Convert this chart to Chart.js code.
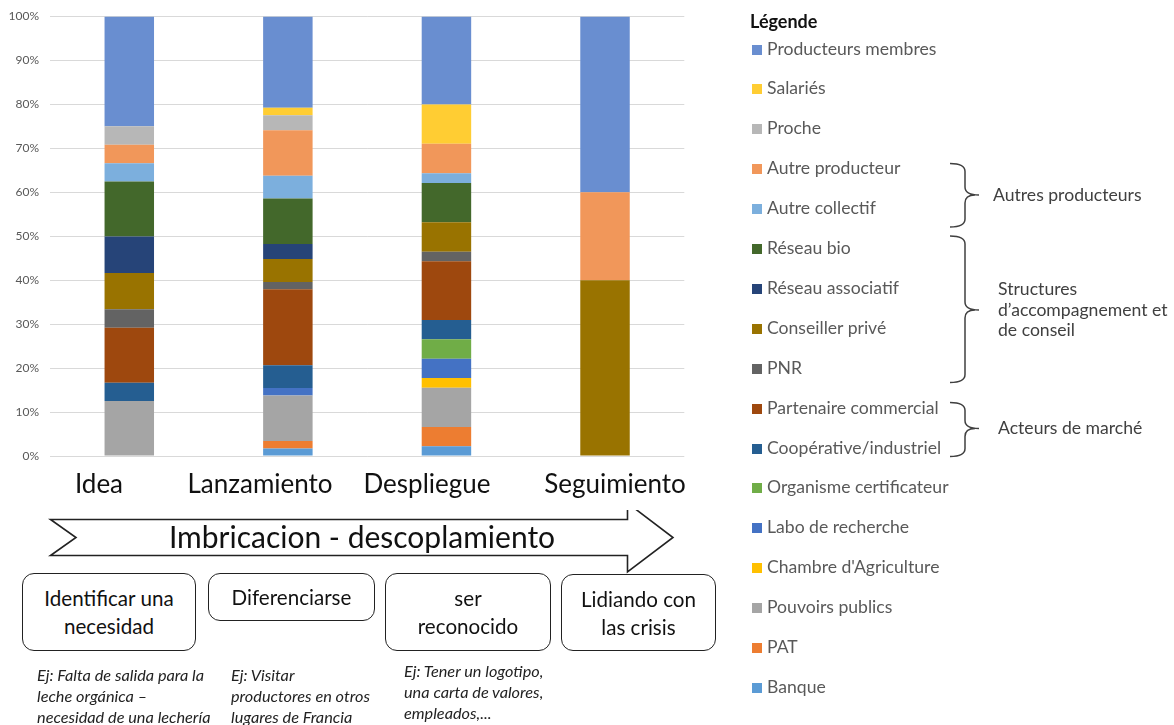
<!DOCTYPE html>
<html>
<head>
<meta charset="utf-8">
<script src="https://cdn.jsdelivr.net/npm/chart.js@4.4.1/dist/chart.umd.min.js"></script>
<style>
html,body{margin:0;padding:0;background:#fff;}
#root{position:relative;width:1174px;height:725px;overflow:hidden;font-family:Lato,'Open Sans',sans-serif;}
#chartBox{position:absolute;left:0;top:0;width:700px;height:470px;}
.cat{position:absolute;top:468px;font-size:26px;line-height:31px;color:#111;white-space:nowrap;transform:translateX(-50%);background:#fff;padding:0 4px;}
#arrowTxt{position:absolute;left:362px;top:518px;transform:translateX(-50%);font-size:30px;line-height:36px;color:#111;white-space:nowrap;}
.box{position:absolute;box-sizing:border-box;border:1.6px solid #222;border-radius:12px;display:flex;align-items:center;justify-content:center;text-align:center;font-size:20.6px;line-height:28px;color:#111;background:#fff;}
.ex{position:absolute;font-style:italic;font-size:16.3px;line-height:21px;color:#222;white-space:nowrap;}
#legendTitle{position:absolute;left:750px;top:9px;font-weight:bold;font-size:18px;line-height:24px;color:#111;}
.lg{position:absolute;left:752px;height:24px;line-height:24px;font-size:17.6px;color:#595959;white-space:nowrap;}
.lg i{display:inline-block;width:10px;height:10px;margin-right:5px;}
.grp{position:absolute;left:995px;font-size:17.6px;line-height:20.5px;color:#404040;white-space:nowrap;}
svg{position:absolute;left:0;top:0;}
</style>
</head>
<body>
<div id="root">
  <div id="chartBox"><canvas id="c"></canvas></div>
  <svg id="deco" width="1174" height="725"></svg>
</div>
<script>
// ---------- data ----------
const categories = ['Idea', 'Lanzamiento', 'Despliegue', 'Seguimiento'];
const yTickValues = [0, 10, 20, 30, 40, 50, 60, 70, 80, 90, 100];

const producteursMembres    = [25.0, 20.7, 20.0, 40.0];
const salaries              = [0.0, 1.7, 8.9, 0.0];
const proche                = [4.2, 3.4, 0.0, 0.0];
const autreProducteur       = [4.2, 10.3, 6.7, 20.0];
const autreCollectif        = [4.2, 5.2, 2.2, 0.0];
const reseauBio             = [12.5, 10.3, 8.9, 0.0];
const reseauAssociatif      = [8.3, 3.4, 0.0, 0.0];
const conseillerPrive       = [8.3, 5.2, 6.7, 40.0];
const pnr                   = [4.2, 1.7, 2.2, 0.0];
const partenaireCommercial  = [12.5, 17.2, 13.3, 0.0];
const cooperativeIndustriel = [4.2, 5.2, 4.4, 0.0];
const organismeCertif       = [0.0, 0.0, 4.4, 0.0];
const laboRecherche         = [0.0, 1.7, 4.4, 0.0];
const chambreAgriculture    = [0.0, 0.0, 2.2, 0.0];
const pouvoirsPublics       = [12.5, 10.3, 8.9, 0.0];
const pat                   = [0.0, 1.7, 4.4, 0.0];
const banque                = [0.0, 1.7, 2.2, 0.0];

// legend order (top to bottom)
const seriesNames = ['Producteurs membres', 'Salariés', 'Proche', 'Autre producteur', 'Autre collectif',
  'Réseau bio', 'Réseau associatif', 'Conseiller privé', 'PNR', 'Partenaire commercial',
  'Coopérative/industriel', 'Organisme certificateur', 'Labo de recherche', "Chambre d'Agriculture",
  'Pouvoirs publics', 'PAT', 'Banque'];
const seriesValues = [producteursMembres, salaries, proche, autreProducteur, autreCollectif,
  reseauBio, reseauAssociatif, conseillerPrive, pnr, partenaireCommercial,
  cooperativeIndustriel, organismeCertif, laboRecherche, chambreAgriculture,
  pouvoirsPublics, pat, banque];
const seriesColors = ['#698ED0', '#FFCD33', '#B7B7B7', '#F1975A', '#7CAFDD',
  '#43682B', '#264478', '#997300', '#636363', '#9E480E',
  '#255E91', '#70AD47', '#4472C4', '#FFC000',
  '#A5A5A5', '#ED7D31', '#5B9BD5'];

const groupLabels = ['Autres producteurs', 'Structures\nd\u2019accompagnement et\nde conseil', 'Acteurs de marché'];

const stageTasks = ['Identificar una\nnecesidad', 'Diferenciarse', 'ser\nreconocido', 'Lidiando con\nlas crisis'];
const stageExamples = ['Ej: Falta de salida para la\nleche orgánica \u2013\nnecesidad de una lechería',
  'Ej: Visitar\nproductores en otros\nlugares de Francia',
  'Ej: Tener un logotipo,\nuna carta de valores,\nempleados,...', ''];
const processTitle = 'Imbricacion - descoplamiento';

// ---------- chart ----------
const totals = categories.map((_, k) => seriesValues.reduce((s, arr) => s + arr[k], 0));
const datasets = [];
for (let i = seriesNames.length - 1; i >= 0; i--) {
  datasets.push({
    label: seriesNames[i],
    data: seriesValues[i].map((v, k) => v / totals[k] * 100),
    backgroundColor: seriesColors[i],
    borderWidth: 0,
    barPercentage: 0.312,
    categoryPercentage: 1.0
  });
}

const chart = new Chart(document.getElementById('c'), {
  type: 'bar',
  data: { labels: categories, datasets },
  options: {
    responsive: true,
    maintainAspectRatio: false,
    animation: false,
    layout: { padding: { left: 0, right: 15.7, top: 16.5, bottom: 14 } },
    plugins: { legend: { display: false }, tooltip: { enabled: false } },
    scales: {
      x: { stacked: true, display: false, offset: true },
      y: {
        stacked: true, min: 0, max: 100,
        afterBuildTicks: s => { s.ticks = yTickValues.map(v => ({ value: v })); },
        afterFit: s => { s.width = 50; s.paddingTop = 0; s.paddingBottom = 0; },
        ticks: { callback: v => v + '%', color: '#595959', font: { family: 'Lato', size: 12 }, padding: 11 },
        grid: { color: '#D9D9D9', lineWidth: 1, drawTicks: false },
        border: { display: false }
      }
    }
  }
});

// ---------- decorations (HTML / SVG) ----------
const root = document.getElementById('root');
const svg = document.getElementById('deco');
const NS = 'http://www.w3.org/2000/svg';
function el(tag, attrs) { const e = document.createElementNS(NS, tag); for (const k in attrs) e.setAttribute(k, attrs[k]); svg.appendChild(e); return e; }
function div(cls, html, style) { const d = document.createElement('div'); d.className = cls; d.innerHTML = html; Object.assign(d.style, style || {}); root.appendChild(d); return d; }
const esc = s => s.replace(/&/g, '&amp;').replace(/</g, '&lt;').replace(/\n/g, '<br>');

// arrow
el('polygon', { points: '50.5,519.5 627.5,519.5 627.5,503 673,537.5 627.5,572 627.5,555.5 50.5,555.5 76,537.5',
  fill: '#fff', stroke: '#222', 'stroke-width': 1.6, 'stroke-linejoin': 'miter' });

// stage labels
const catX = [99, 260, 427, 615];
categories.forEach((c, k) => {
  const d = div('cat', esc(c), { left: catX[k] + 'px' });
  if (k === 3) { d.style.height = '42px'; }
});
div('', esc(processTitle), {}).id = 'arrowTxt';

// boxes
const boxes = [[22, 573, 174, 78], [208, 573, 167, 48], [385, 573, 166, 78], [561, 574, 155, 77]];
stageTasks.forEach((t, k) => {
  const b = boxes[k];
  div('box', esc(t), { left: b[0] + 'px', top: b[1] + 'px', width: b[2] + 'px', height: b[3] + 'px' });
});
const exPos = [[37, 664], [231, 664], [404, 660]];
stageExamples.forEach((t, k) => { if (t) div('ex', esc(t), { left: exPos[k][0] + 'px', top: exPos[k][1] + 'px' }); });

// legend
div('', 'Légende', {}).id = 'legendTitle';
seriesNames.forEach((n, i) => {
  const cy = 48.5 + 39.9 * i;
  div('lg', '<i style="background:' + seriesColors[i] + '"></i>' + esc(n), { top: (cy - 12) + 'px' });
});

// braces
function brace(top, bot, tip) {
  const x0 = 950, xv = 965, xt = 979, r = 8;
  const d = `M${x0},${top} Q${xv},${top} ${xv},${top + r} L${xv},${tip - r} Q${xv},${tip} ${xt},${tip} ` +
            `M${xv},${tip + r} Q${xv},${tip} ${xt - 4},${tip} M${xv},${tip + r} L${xv},${bot - r} Q${xv},${bot} ${x0},${bot}`;
  el('path', { d, fill: 'none', stroke: '#404040', 'stroke-width': 1.5 });
}
brace(163.5, 227, 195);
brace(236, 382.5, 310);
brace(402.5, 456.5, 428.5);
const grpPos = [[993, 195], [998, 310], [998, 428]];
groupLabels.forEach((g, k) => {
  const lines = g.split('\n').length;
  div('grp', esc(g), { left: grpPos[k][0] + 'px', top: (grpPos[k][1] - lines * 20.5 / 2) + 'px' });
});
</script>
</body>
</html>
